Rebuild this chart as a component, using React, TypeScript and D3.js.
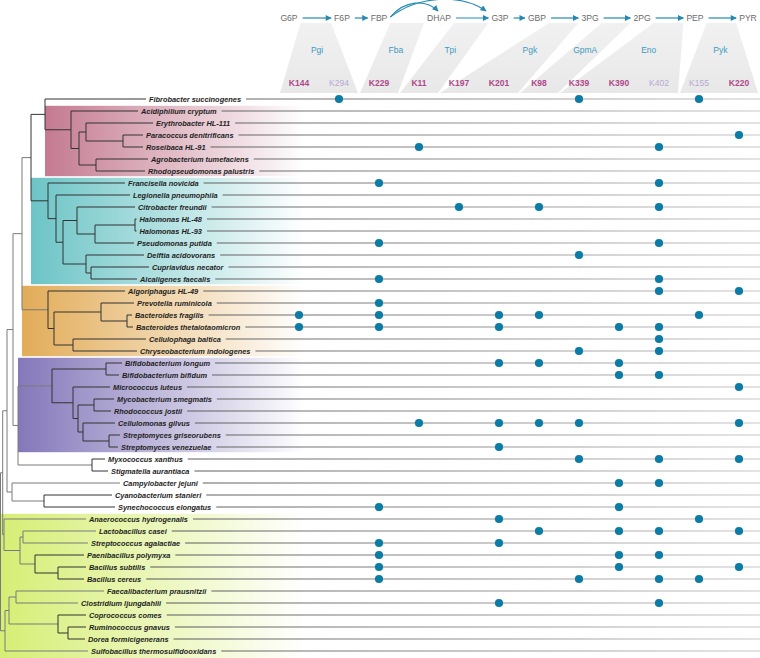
import React from 'react';
import * as d3 from 'd3';

const W = 760;
const H = 658;

// ---------- data ----------
const species = [
  'Fibrobacter succinogenes', 'Acidiphilium cryptum', 'Erythrobacter HL-111', 'Paracoccus denitrificans',
  'Roseibaca HL-91', 'Agrobacterium tumefaciens', 'Rhodopseudomonas palustris', 'Francisella novicida',
  'Legionella pneumophila', 'Citrobacter freundii', 'Halomonas HL-48', 'Halomonas HL-93', 'Pseudomonas putida',
  'Delftia acidovorans', 'Cupriavidus necator', 'Alcaligenes faecalis', 'Algoriphagus HL-49',
  'Prevotella ruminicola', 'Bacteroides fragilis', 'Bacteroides thetaiotaomicron', 'Cellulophaga baltica',
  'Chryseobacterium indologenes', 'Bifidobacterium longum', 'Bifidobacterium bifidum', 'Micrococcus luteus',
  'Mycobacterium smegmatis', 'Rhodococcus jostii', 'Cellulomonas gilvus', 'Streptomyces griseorubens',
  'Streptomyces venezuelae', 'Myxococcus xanthus', 'Stigmatella aurantiaca', 'Campylobacter jejuni',
  'Cyanobacterium stanieri', 'Synechococcus elongatus', 'Anaerococcus hydrogenalis', 'Lactobacillus casei',
  'Streptococcus agalactiae', 'Paenibacillus polymyxa', 'Bacillus subtilis', 'Bacillus cereus',
  'Faecalibacterium prausnitzii', 'Clostridium ljungdahlii', 'Coprococcus comes', 'Ruminococcus gnavus',
  'Dorea formicigenerans', 'Sulfobacillus thermosulfidooxidans',
];

const kLabels = ['K144', 'K294', 'K229', 'K11', 'K197', 'K201', 'K98', 'K339', 'K390', 'K402', 'K155', 'K220'];
const kFaded = ['K294', 'K402', 'K155'];

const presence: string[][] = [
  ['K294', 'K339', 'K155'],
  [],
  [],
  ['K220'],
  ['K11', 'K402'],
  [],
  [],
  ['K229', 'K402'],
  [],
  ['K197', 'K98', 'K402'],
  [],
  [],
  ['K229', 'K402'],
  ['K339'],
  [],
  ['K229', 'K402'],
  ['K402', 'K220'],
  ['K229'],
  ['K144', 'K229', 'K201', 'K98', 'K155'],
  ['K144', 'K229', 'K201', 'K390', 'K402'],
  ['K402'],
  ['K339', 'K402'],
  ['K201', 'K98', 'K390'],
  ['K390', 'K402'],
  ['K220'],
  [],
  [],
  ['K11', 'K201', 'K98', 'K339', 'K220'],
  [],
  ['K201'],
  ['K339', 'K402', 'K220'],
  [],
  ['K390', 'K402'],
  [],
  ['K229', 'K390'],
  ['K201', 'K155'],
  ['K98', 'K390', 'K402', 'K220'],
  ['K229', 'K201'],
  ['K229', 'K390', 'K402'],
  ['K229', 'K390', 'K220'],
  ['K229', 'K339', 'K402', 'K155'],
  [],
  ['K201', 'K402'],
  [],
  [],
  [],
  [],
];

// tree (Newick pieces, branch lengths)
const nwPink = '(Acidiphilium cryptum:67,((Erythrobacter HL-111:67,(Paracoccus denitrificans:20,Roseibaca HL-91:20):37):7,(Agrobacterium tumefaciens:52,Rhodopseudomonas palustris:49):17):8)';
const nwTeal = '(Francisella novicida:77,(Legionella pneumophila:74,((Citrobacter freundii:58,((Halomonas HL-48:1.5,Halomonas HL-93:1.5):40,Pseudomonas putida:39):18):14,(Delftia acidovorans:58,(Cupriavidus necator:58,Alcaligenes faecalis:46):5):23):7):8)';
const nwOrange = '(Algoriphagus HL-49:77,((Prevotella ruminicola:33,(Bacteroides fragilis:5,Bacteroides thetaiotaomicron:6):26):47,(Cellulophaga baltica:73,Chryseobacterium indologenes:64):19):6)';
const nwPurple = '((Bifidobacterium longum:16,Bifidobacterium bifidum:13):54,(Micrococcus luteus:37,((Mycobacterium smegmatis:20,Rhodococcus jostii:17):16,(Cellulomonas gilvus:32,(Streptomyces griseorubens:11,Streptomyces venezuelae:9):26):5):5):21)';
const nwMyxo = '(Myxococcus xanthus:13,Stigmatella aurantiaca:16)';
const nwCyano = '(Campylobacter jejuni:108,(Cyanobacterium stanieri:68,Synechococcus elongatus:71):32)';
const nwGreenA = '(Anaerococcus hydrogenalis:82,((Lactobacillus casei:73,Streptococcus agalactiae:65):3,(Paenibacillus polymyxa:49,(Bacillus subtilis:28,Bacillus cereus:26):23):15):16)';
const nwGreenB = '(((Faecalibacterium prausnitzii:88,Clostridium ljungdahlii:62):7,(Coprococcus comes:28,(Ruminococcus gnavus:18,Dorea formicigenerans:17):10):49):4,Sulfobacillus thermosulfidooxidans:83)';
const newick =
  '((((((((Fibrobacter succinogenes:101,' + nwPink + ':26):14,' + nwTeal + ':17):9,' + nwOrange + ':26):9,(' +
  nwPurple + ':34,' + nwMyxo + ':74):5):6,' + nwCyano + ':5):4.3,' + nwGreenA + ':1.3):2.2,' + nwGreenB + ':4.5);';

const clades = [
  { first: 'Acidiphilium cryptum', last: 'Rhodopseudomonas palustris', color: '#c47a90' },
  { first: 'Francisella novicida', last: 'Alcaligenes faecalis', color: '#6cc4c6' },
  { first: 'Algoriphagus HL-49', last: 'Chryseobacterium indologenes', color: '#e2ac58' },
  { first: 'Bifidobacterium longum', last: 'Streptomyces venezuelae', color: '#8478ba' },
  { first: 'Anaerococcus hydrogenalis', last: 'Sulfobacillus thermosulfidooxidans', color: '#d6ee74' },
];

// pathway header
const metabolites = ['G6P', 'F6P', 'FBP', 'DHAP', 'G3P', 'GBP', '3PG', '2PG', 'PEP', 'PYR'];
const metaboliteX = [289, 342, 379, 439, 500, 537, 590, 642, 695, 748];
const straightSteps = [['G6P', 'F6P'], ['F6P', 'FBP'], ['DHAP', 'G3P'], ['G3P', 'GBP'], ['GBP', '3PG'], ['3PG', '2PG'], ['2PG', 'PEP'], ['PEP', 'PYR']];
const curvedSteps = [['FBP', 'DHAP'], ['FBP', 'G3P']];
const enzymes = ['Pgi', 'Fba', 'Tpi', 'Pgk', 'GpmA', 'Eno', 'Pyk'];
const enzymeSteps = [['G6P', 'F6P'], ['FBP', 'DHAP'], ['DHAP', 'G3P'], ['GBP', '3PG'], ['3PG', '2PG'], ['2PG', 'PEP'], ['PEP', 'PYR']];
const enzymeKs = [['K144', 'K294'], ['K229'], ['K11'], ['K197', 'K201'], ['K98'], ['K339', 'K390', 'K402'], ['K155', 'K220']];

// ---------- helpers ----------
type NwNode = { name: string; length: number; children: NwNode[] };
function parseNewick(s: string): NwNode {
  let i = 0;
  function node(): NwNode {
    const n: NwNode = { name: '', length: 0, children: [] };
    if (s[i] === '(') {
      i++;
      n.children.push(node());
      while (s[i] === ',') { i++; n.children.push(node()); }
      i++;
    }
    let name = '';
    while (i < s.length && !',():;'.includes(s[i])) name += s[i++];
    n.name = name.trim();
    if (s[i] === ':') {
      i++;
      let num = '';
      while (i < s.length && !',();'.includes(s[i])) num += s[i++];
      n.length = parseFloat(num);
    }
    return n;
  }
  return node();
}

const FONT = "'Liberation Sans', Arial, Helvetica, sans-serif";
let _ctx: CanvasRenderingContext2D | null = null;
function textW(s: string, font: string) {
  if (!_ctx) _ctx = document.createElement('canvas').getContext('2d');
  _ctx!.font = font;
  return _ctx!.measureText(s).width;
}

export default function App() {
  const labelFont = `italic bold 7.4px ${FONT}`;
  const metFont = `8.6px ${FONT}`;

  const yRow = d3.scalePoint<string>().domain(species).range([99, 651]);
  const xCol = d3.scalePoint<string>().domain(kLabels).range([299, 739]);
  const xTree = d3.scaleLinear().domain([0, 160]).range([0.5, 160.5]);
  const xMet = d3.scaleOrdinal<string, number>().domain(metabolites).range(metaboliteX);

  const root: any = d3.hierarchy(parseNewick(newick), (d: NwNode) => (d.children.length ? d.children : null));
  root.eachBefore((n: any) => { n.dist = n.parent ? n.parent.dist + n.data.length : 0; });
  root.eachAfter((n: any) => {
    if (!n.children) n.yy = yRow(n.data.name);
    else n.yy = (n.children[0].yy + n.children[n.children.length - 1].yy) / 2;
  });
  const nodes: any[] = root.descendants();
  const leaves: any[] = root.leaves();
  const leafByName = new Map(leaves.map((l) => [l.data.name, l]));

  const cladeRects = clades.map((c, i) => {
    const a: any = leafByName.get(c.first);
    const b: any = leafByName.get(c.last);
    const lca = a.ancestors().find((n: any) => n.leaves().includes(b));
    const x0 = lca.parent && i < 4 ? xTree(lca.parent.dist) : 0;
    const y0 = (yRow(c.first) as number) - 6 + 0.8;
    const y1 = i === 4 ? H : (yRow(c.last) as number) + 6 - 0.8;
    return { ...c, x0, y0, y1, id: 'cg' + i };
  });

  const metLeft = (m: string) => xMet(m) - textW(m, metFont) / 2;
  const metRight = (m: string) => xMet(m) + textW(m, metFont) / 2;

  const fTop = 23;
  const fBot = 93;
  const funnels = enzymes.map((e, i) => {
    const [s, p] = enzymeSteps[i];
    const ks = enzymeKs[i];
    const tl = metRight(s) + 3;
    const tr = metLeft(p) - 3;
    const bl = (xCol(ks[0]) as number) - 19;
    const br = (xCol(ks[ks.length - 1]) as number) + 19;
    const t = 0.4;
    const lx = (tl + tr) / 2 + t * ((bl + br) / 2 - (tl + tr) / 2);
    return { e, pts: [[tl, fTop], [tr, fTop], [br, fBot], [bl, fBot]], lx };
  });

  const arrowColor = '#2389b2';

  return (
    <svg width={W} height={H} style={{ position: 'absolute', left: 0, top: 0, background: '#fff' }}
      fontFamily={FONT}>
      <defs>
        {cladeRects.map((c) => (
          <linearGradient key={c.id} id={c.id} x1="0" x2="1" y1="0" y2="0">
            <stop offset="0" stopColor={c.color} stopOpacity={1} />
            <stop offset="0.5" stopColor={c.color} stopOpacity={0.5} />
            <stop offset="1" stopColor={c.color} stopOpacity={0} />
          </linearGradient>
        ))}
        <linearGradient id="rowLine" gradientUnits="userSpaceOnUse" x1={150} x2={W} y1={0} y2={0}>
          <stop offset="0" stopColor="#555" />
          <stop offset="1" stopColor="#c8c8c8" />
        </linearGradient>
        <linearGradient id="funnelFill" x1="0" x2="0" y1="0" y2="1">
          <stop offset="0" stopColor="#f1f1f1" />
          <stop offset="1" stopColor="#e8e8e8" />
        </linearGradient>
        <marker id="arrowHead" viewBox="0 0 10 10" refX="9" refY="5" markerWidth="7" markerHeight="6"
          markerUnits="userSpaceOnUse" orient="auto">
          <path d="M0,0 L10,5 L0,10 z" fill={arrowColor} />
        </marker>
      </defs>

      {/* clade backgrounds */}
      {cladeRects.map((c) => (
        <rect key={c.id} x={c.x0} y={c.y0} width={305 - c.x0} height={c.y1 - c.y0} fill={`url(#${c.id})`} />
      ))}

      {/* header funnels */}
      {funnels.map((f) => (
        <polygon key={f.e} points={f.pts.map((p) => p.join(',')).join(' ')} fill="url(#funnelFill)" />
      ))}

      {/* metabolites */}
      {metabolites.map((m) => (
        <text key={m} x={xMet(m)} y={21} textAnchor="middle" fontSize={8.6} fill="#6b6b6b">{m}</text>
      ))}
      {straightSteps.map(([a, b]) => (
        <line key={a + b} x1={metRight(a) + 5} x2={metLeft(b) - 3} y1={18} y2={18}
          stroke={arrowColor} strokeWidth={1.2} markerEnd="url(#arrowHead)" />
      ))}
      {curvedSteps.map(([a, b], i) => {
        const x0 = metRight(a) + 3;
        const x1 = xMet(b) - (i === 0 ? 1 : 14);
        const path = d3.path();
        path.moveTo(x0, 17);
        const lift = i === 0 ? 17 : 22;
        path.bezierCurveTo(x0 + (x1 - x0) * 0.3, 17 - lift, x0 + (x1 - x0) * 0.75, 17 - lift - 1, x1, 11);
        return (
          <path key={a + b} d={path.toString()} fill="none" stroke={arrowColor} strokeWidth={1.1}
            markerEnd="url(#arrowHead)" />
        );
      })}

      {/* enzymes */}
      {funnels.map((f) => (
        <text key={f.e} x={f.lx} y={53} textAnchor="middle" fontSize={8.5} fill="#3b9cc2">{f.e}</text>
      ))}

      {/* K labels */}
      {kLabels.map((k) => {
        const faded = kFaded.includes(k);
        return (
          <text key={k} x={xCol(k)} y={86} textAnchor="middle" fontSize={8.5}
            fontWeight={faded ? 'normal' : 'bold'} fill={faded ? '#b6aad4' : '#b0478b'}>{k}</text>
        );
      })}

      {/* tree */}
      <g fill="none" strokeWidth={1}>
        {nodes.filter((n) => n.parent).map((n, i) => (
          <line key={'h' + i} x1={xTree(n.parent.dist)} x2={xTree(n.dist)} y1={n.yy} y2={n.yy}
            stroke={n.parent.dist < 25 ? '#7a7a7a' : '#333'} />
        ))}
        {nodes.filter((n) => n.children).map((n, i) => (
          <line key={'v' + i} x1={xTree(n.dist)} x2={xTree(n.dist)} y1={n.children[0].yy}
            y2={n.children[n.children.length - 1].yy} stroke={n.dist < 25 ? '#7a7a7a' : '#333'} />
        ))}
      </g>

      {/* rows: labels, lines, dots */}
      {species.map((s, i) => {
        const leaf: any = leafByName.get(s);
        const tx = xTree(leaf.dist) + 3;
        const y = yRow(s) as number;
        const lx = tx + textW(s, labelFont) + 5;
        return (
          <g key={s}>
            <line x1={lx} x2={W} y1={y} y2={y} stroke="url(#rowLine)" strokeWidth={1.1} />
            <text x={tx} y={y} dy="0.35em" fontSize={7.4} fontStyle="italic" fontWeight="bold" fill="#1e1e1e">{s}</text>
            {presence[i].map((k) => (
              <circle key={k} cx={xCol(k)} cy={y} r={4.1} fill="#0b7ca6" />
            ))}
          </g>
        );
      })}
    </svg>
  );
}
